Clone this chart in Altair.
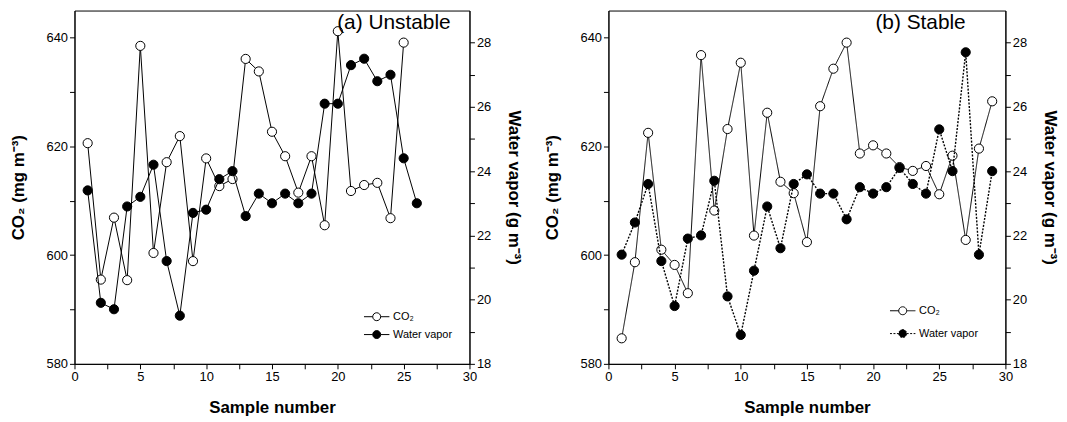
import altair as alt
import pandas as pd

FONT = "Liberation Sans"

# ---- data ----
samples_a = list(range(1, 27))
co2_a = [620.6, 595.5, 606.9, 595.4, 638.5, 600.4, 617.1, 621.9, 598.9, 617.8,
         612.7, 614.0, 636.1, 633.8, 622.7, 618.2, 611.5, 618.2, 605.5, 641.2,
         611.8, 612.9, 613.3, 606.8, 639.1]
water_a = [23.4, 19.9, 19.7, 22.9, 23.2, 24.2, 21.2, 19.5, 22.7, 22.8,
           23.75, 24.0, 22.6, 23.3, 23.0, 23.3, 23.0, 23.3, 26.1, 26.1,
           27.3, 27.5, 26.8, 27.0, 24.4, 23.0]

samples_b = list(range(1, 30))
co2_b = [584.7, 598.7, 622.5, 601.0, 598.2, 593.0, 636.8, 608.2, 623.2, 635.4,
         603.6, 626.2, 613.5, 611.4, 602.4, 627.4, 634.3, 639.1, 618.7, 620.2,
         618.7, 616.2, 615.5, 616.4, 611.2, 618.3, 602.8, 619.6, 628.3]
water_b = [21.4, 22.4, 23.6, 21.2, 19.8, 21.9, 22.0, 23.7, 20.1, 18.9,
           20.9, 22.9, 21.6, 23.6, 23.9, 23.3, 23.3, 22.5, 23.5, 23.3,
           23.5, 24.1, 23.6, 23.3, 25.3, 24.0, 27.7, 21.4, 24.0]

series_names = ["CO₂", "Water vapor"]
x_ticks = [i * 2.5 for i in range(13)]
co2_ticks = list(range(580, 641, 10))
water_ticks = list(range(18, 29))

LEGEND_PATH = "M-3.2,0H-1M1,0H3.2M1,0A1,1,0,1,1,-1,0A1,1,0,1,1,1,0Z"


def panel(samples, co2, water, title, title_x, water_dash, leg_x, leg_y, row_pad, w):
    df_c = pd.DataFrame({"sample": samples[:len(co2)], "value": co2, "series": series_names[0]})
    df_w = pd.DataFrame({"sample": samples[:len(water)], "value": water, "series": series_names[1]})

    x = alt.X("sample:Q",
              scale=alt.Scale(domain=[0, 30], nice=False),
              axis=alt.Axis(values=x_ticks, title="Sample number",
                            labelExpr="datum.value % 5 === 0 ? datum.label : ''",
                            titlePadding=16, labelFlush=False))
    yc = alt.Y("value:Q",
               scale=alt.Scale(domain=[580, 645], nice=False, zero=False),
               axis=alt.Axis(orient="left", values=co2_ticks, title="CO₂ (mg m⁻³)",
                             labelExpr="datum.value % 20 === 0 ? datum.label : ''",
                             titlePadding=19, labelFlush=False))
    yw = alt.Y("value:Q",
               scale=alt.Scale(domain=[18, 29], nice=False, zero=False),
               axis=alt.Axis(orient="right", values=water_ticks, title="Water vapor (g m⁻³)",
                             labelExpr="datum.value % 2 === 0 ? datum.label : ''",
                             titlePadding=14, labelFlush=False))

    legend = alt.Legend(title=None, orient="none", legendX=leg_x, legendY=leg_y,
                        symbolType=LEGEND_PATH, symbolSize=64,
                        symbolStrokeColor="black", symbolStrokeWidth=1, symbolOpacity=1,
                        labelFont=FONT, labelFontSize=11, labelColor="black",
                        labelOffset=11, rowPadding=row_pad)
    fill = alt.Fill("series:N",
                    scale=alt.Scale(domain=series_names, range=["white", "black"]),
                    legend=legend)

    line_enc = {}
    if water_dash:
        line_enc["strokeDash"] = alt.StrokeDash(
            "series:N", scale=alt.Scale(domain=series_names, range=[[1, 0], [2, 1.5]]),
            legend=legend)

    co2_line = alt.Chart(df_c).mark_line(color="black", strokeWidth=1).encode(
        x=x, y=yc, **line_enc)
    co2_pts = alt.Chart(df_c).mark_point(shape="circle", filled=True, stroke="black",
                                          strokeWidth=1, size=85, opacity=1).encode(
        x=x, y=yc, fill=fill)
    w_line = alt.Chart(df_w).mark_line(color="black",
                                        strokeWidth=1.4 if water_dash else 1).encode(
        x=x, y=yw, **line_enc)
    w_pts = alt.Chart(df_w).mark_point(shape="circle", filled=True, stroke="black",
                                        strokeWidth=1, size=85, opacity=1).encode(
        x=x, y=yw, fill=fill)

    return alt.layer(alt.layer(co2_line, co2_pts), alt.layer(w_line, w_pts)).resolve_scale(
        y="independent").properties(
        width=w, height=356,
        title=alt.TitleParams(title, orient="none", anchor="end", align="right",
                              font=FONT, fontSize=21, fontWeight="normal", color="black",
                              dx=title_x, dy=23, baseline="bottom"))


left = panel(samples_a, co2_a, water_a, "(a) Unstable", 379, False, 299, 303, 5, 398)
right = panel(samples_b, co2_b, water_b, "(b) Stable", 360, True, 291, 297, 10, 400)

chart = alt.hconcat(left, right, spacing=19).resolve_scale(
    fill="independent", strokeDash="independent").resolve_legend(
    fill="independent", strokeDash="independent").properties(
    padding={"left": 0, "top": 0, "right": 0, "bottom": 0}
).configure_view(stroke="black", strokeWidth=1).configure_axis(
    domainColor="black", domainWidth=1, tickColor="black", tickSize=5, tickWidth=1,
    labelColor="black", titleColor="black", labelFont=FONT, titleFont=FONT,
    labelFontSize=13, titleFontSize=17, titleFontWeight="bold", labelPadding=2, grid=False
)

chart.save("out.html", embed_options={"renderer": "svg", "actions": False})
